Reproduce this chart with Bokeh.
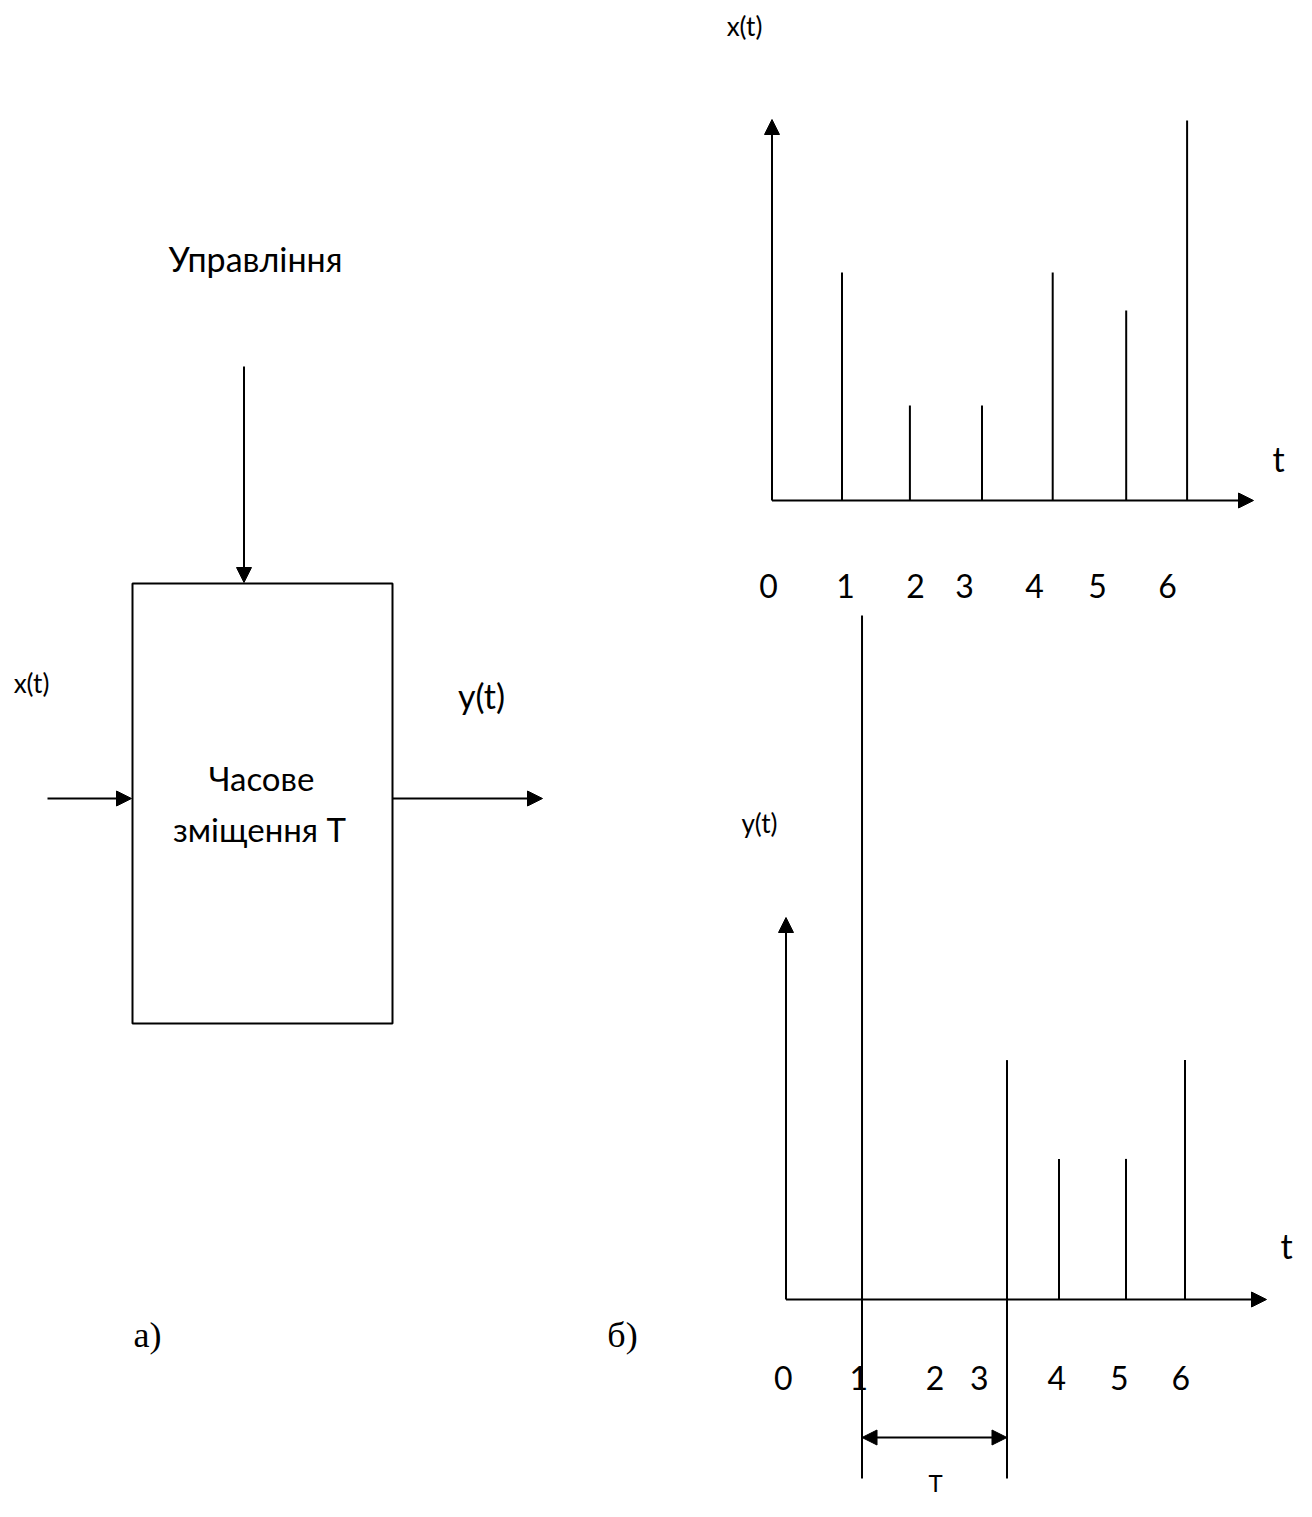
from bokeh.plotting import figure
from bokeh.models import Range1d, Arrow, NormalHead, ColumnDataSource
from bokeh.core.properties import value
from bokeh.embed import file_html
from bokeh.resources import INLINE

# ---------------- data ----------------
tick_labels = ["0", "1", "2", "3", "4", "5", "6"]

# input signal x(t): impulse times and amplitudes
x_imp_t = [1.0, 1.97, 3.0, 4.01, 5.06, 5.93]
x_imp_a = [6.0, 2.5, 2.5, 6.0, 5.0, 10.0]
x_label_t = [-0.05, 1.05, 2.05, 2.75, 3.75, 4.65, 5.65]

# output signal y(t): shifted impulses
y_imp_t = [1.086, 3.157, 3.9, 4.857, 5.7]
y_imp_a = [18.0, 6.3, 3.7, 3.7, 6.3]
y_label_t = [-0.04, 1.04, 2.13, 2.76, 3.87, 4.76, 5.64]
shift_marks_t = [1.086, 3.157]   # T interval ends

# ---------------- canvas ----------------
W, H = 1296, 1501
p = figure(width=W, height=H, output_backend="svg", toolbar_location=None,
           x_range=Range1d(0, W), y_range=Range1d(H, 0),
           min_border=0, outline_line_color=None)
p.axis.visible = False
p.grid.visible = False
p.background_fill_color = "white"
p.border_fill_color = "white"

FONT = value("Lato")
SERIF = value("Liberation Serif")
LW = 2
BLACK = "black"


def arrow(x0, y0, x1, y1, both=False, size=15):
    head = NormalHead(size=size, fill_color=BLACK, line_color=BLACK, line_width=1)
    kw = dict(end=head, x_start=x0, y_start=y0, x_end=x1, y_end=y1,
              line_width=LW, line_color=BLACK)
    if both:
        kw["start"] = NormalHead(size=size, fill_color=BLACK, line_color=BLACK, line_width=1)
    p.add_layout(Arrow(**kw))


def label(x, y, txt, size, font=FONT, align="center"):
    p.text(x=[x], y=[y], text=[txt], text_font=font, text_font_size=f"{size}px",
           text_align=align, text_baseline="middle", text_color=BLACK)


# ---------------- a) block diagram ----------------
p.quad(left=[132], right=[392], top=[583], bottom=[1023],
       fill_color=None, line_color=BLACK, line_width=LW)
arrow(243.5, 366, 243.5, 582)          # control
arrow(47, 798, 131, 798)               # input
arrow(392, 798, 542, 798)              # output
label(255, 258, "Управління", 34)
label(31, 682, "x(t)", 26)
label(481, 695, "y(t)", 34)
label(261, 777, "Часове", 33)
label(259, 828, "зміщення Т", 33)
label(147, 1334, "а)", 36, font=SERIF)
label(622, 1334, "б)", 36, font=SERIF)

# ---------------- b) top: x(t) ----------------
TU = 70.0      # px per time unit
AU = 38.0      # px per amplitude unit
ox1, oy1 = 771.5, 500
arrow(ox1, oy1, ox1, 119)
arrow(ox1, oy1, 1253, oy1)
src1 = ColumnDataSource(dict(
    x=[ox1 + t * TU for t in x_imp_t],
    y0=[oy1] * len(x_imp_t),
    y1=[oy1 - a * AU for a in x_imp_a]))
p.segment(x0="x", y0="y0", x1="x", y1="y1", source=src1, line_width=LW, line_color=BLACK)
p.text(x=[ox1 + t * TU for t in x_label_t], y=[585] * 7, text=tick_labels,
       text_font=FONT, text_font_size="32px", text_align="center",
       text_baseline="middle", text_color=BLACK)
label(744, 25, "x(t)", 26)
label(1278, 458, "t", 34)

# ---------------- b) bottom: y(t) ----------------
ox2, oy2 = 785.5, 1299
arrow(ox2, oy2, ox2, 917)
arrow(ox2, oy2, 1266, oy2)
src2 = ColumnDataSource(dict(
    x=[ox2 + t * TU for t in y_imp_t],
    y0=[oy2] * len(y_imp_t),
    y1=[oy2 - a * AU for a in y_imp_a]))
p.segment(x0="x", y0="y0", x1="x", y1="y1", source=src2, line_width=LW, line_color=BLACK)
# T markers extending below the axis
p.segment(x0=[ox2 + t * TU for t in shift_marks_t], y0=[oy2] * 2,
          x1=[ox2 + t * TU for t in shift_marks_t], y1=[1478] * 2,
          line_width=LW, line_color=BLACK)
arrow(ox2 + shift_marks_t[0] * TU, 1437, ox2 + shift_marks_t[1] * TU, 1437, both=True)
p.text(x=[ox2 + t * TU for t in y_label_t], y=[1377] * 7, text=tick_labels,
       text_font=FONT, text_font_size="32px", text_align="center",
       text_baseline="middle", text_color=BLACK)
label(759, 822, "y(t)", 26)
label(1286, 1245, "t", 34)
label(935, 1482, "T", 24)

open("out.html", "w").write(file_html(p, INLINE))
